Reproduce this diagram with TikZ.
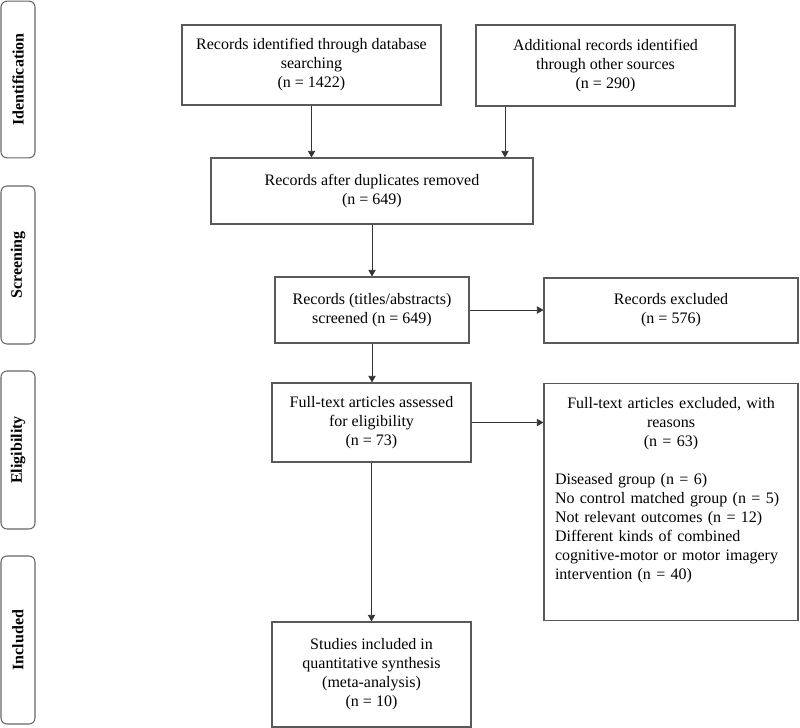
\documentclass[tikz,border=0pt]{standalone}
\usepackage{fontspec}
\setmainfont{Liberation Serif}
\usetikzlibrary{arrows.meta}

\tikzset{
    % Box styles - thin grey frames
    flow box/.style={draw=black!65, line width=0.8pt, align=center,
        font=\fontsize{12pt}{14.25pt}\selectfont, inner sep=2pt},
    phase box/.style={draw=black!60, line width=0.8pt, rounded corners=4.5pt,
        rotate=90, minimum height=25.5pt,
        font=\fontsize{12pt}{14.25pt}\selectfont\bfseries},
    % Arrow style
    flow arrow/.style={-{Triangle[length=5pt,width=5.5pt]}, line width=0.7pt, black!80},
}

\begin{document}
\begin{tikzpicture}[x=0.75pt, y=-0.75pt]
    \useasboundingbox (0,0) rectangle (800,728);

    % Phases
    \node[phase box, minimum width=117.5pt] (identification) at (18,79.5) {Identification};
    \node[phase box, minimum width=118.5pt] (screening) at (18,265) {Screening};
    \node[phase box, minimum width=118.5pt] (eligibility) at (18,450) {Eligibility};
    \node[phase box, minimum width=126pt] (included) at (18,640) {Included};

    % Identification
    \node[flow box, minimum width=194.25pt, minimum height=60pt] (dbase) at (311.5,65)
        {Records identified through database\\searching\\(n = 1422)};
    \node[flow box, minimum width=194.25pt, minimum height=60.75pt] (other) at (605.5,65.5)
        {Additional records identified\\through other sources\\(n = 290)};

    % Screening
    \node[flow box, minimum width=241.5pt, minimum height=49.5pt] (dup) at (372,191)
        {Records after duplicates removed\\(n = 649)};
    \node[flow box, minimum width=145.5pt, minimum height=49.5pt] (screen) at (372,310)
        {Records (titles/abstracts)\\screened (n = 649)};
    \node[flow box, minimum width=190.5pt, minimum height=48.75pt] (excl) at (671,310.5)
        {Records excluded\\(n = 576)};

    % Eligibility
    \node[flow box, minimum width=149.25pt, minimum height=59.25pt] (full) at (371.5,422.5)
        {Full-text articles assessed\\for eligibility\\(n = 73)};
    \node[flow box, anchor=north, align=left, text width=174pt, inner xsep=8.25pt,
        inner ysep=10.5pt] (excl2) at (671,383)
        {{\centering Full-text articles excluded, with\\reasons\\(n = 63)\par}
         \vspace{14.25pt}\raggedright
         Diseased group (n = 6)\\
         No control matched group (n = 5)\\
         Not relevant outcomes (n = 12)\\
         Different kinds of combined\\
         cognitive-motor or motor imagery\\
         intervention (n = 40)\rule[-20pt]{0pt}{20pt}};

    % Included
    \node[flow box, minimum width=149.25pt, minimum height=78.75pt] (incl) at (371.5,674.5)
        {Studies included in\\quantitative synthesis\\(meta-analysis)\\(n = 10)};

    % Connectors
    \coordinate (bx) at (505,0);
    \draw[flow arrow] (dbase.south) -- (dbase.south |- dup.north);
    \draw[flow arrow] (other.south -| bx) -- (dup.north -| bx);
    \draw[flow arrow] (dup.south) -- (screen.north);
    \draw[flow arrow] (screen.east) -- (screen.east -| excl.west);
    \draw[flow arrow] (screen.south) -- (screen.south |- full.north);
    \draw[flow arrow] (full.east) -- (full.east -| excl2.west);
    \draw[flow arrow] (full.south) -- (full.south |- incl.north);
\end{tikzpicture}
\end{document}
